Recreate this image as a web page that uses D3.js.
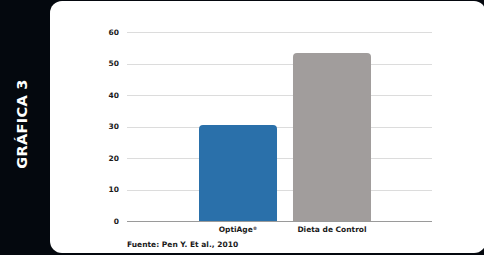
<!DOCTYPE html>
<html><head><meta charset="utf-8">
<script src="https://cdn.jsdelivr.net/npm/d3@7"></script>
<style>html,body{margin:0;padding:0;background:#04080e;}svg{display:block;}</style>
</head><body>
<script>
const categories = ["OptiAge", "Dieta de Control"];
const categorySup = ["®", ""];
const values = [30.5, 53.3];
const colors = ["#2a70aa", "#a19d9c"];
const yTicks = [0, 10, 20, 30, 40, 50, 60];
const title = "GRÁFICA 3";
const source = "Fuente: Pen Y. Et al., 2010";

const W = 484, H = 255;
const svg = d3.select("body").append("svg").attr("width", W).attr("height", H);
svg.append("rect").attr("width", W).attr("height", H).attr("fill", "#04080e");
svg.append("rect").attr("x", 50).attr("y", 1).attr("width", 436).attr("height", 252)
  .attr("rx", 12).attr("fill", "#ffffff");

svg.append("text").attr("transform", "translate(26.5,124) rotate(-90)")
  .attr("text-anchor", "middle").attr("fill", "#ffffff")
  .attr("font-family", "DejaVu Sans").attr("font-weight", "bold").attr("font-size", 14.5)
  .attr("letter-spacing", 0.3)
  .text(title);

const y = d3.scaleLinear().domain([0, 60]).range([221, 32]);
const x = d3.scaleBand().domain(categories).range([199, 371]).paddingInner(0.17).paddingOuter(0);
const gridX0 = 127, gridX1 = 432;

const g = svg.append("g");
g.selectAll("line.grid").data(yTicks.filter(d => d > 0)).join("line")
  .attr("x1", gridX0).attr("x2", gridX1)
  .attr("y1", d => Math.round(y(d)) + 0.5).attr("y2", d => Math.round(y(d)) + 0.5)
  .attr("stroke", "#dcdcdc").attr("stroke-width", 1);

g.selectAll("text.tick").data(yTicks).join("text")
  .attr("x", 119).attr("y", d => y(d)).attr("dy", "0.35em")
  .attr("text-anchor", "end").attr("fill", "#1a1a1a")
  .attr("font-family", "DejaVu Sans").attr("font-weight", "bold").attr("font-size", 7.5)
  .text(d => d);

const r = 4;
g.selectAll("path.bar").data(values).join("path")
  .attr("fill", (d, i) => colors[i])
  .attr("d", (d, i) => {
    const x0 = x(categories[i]), w = x.bandwidth(), y0 = y(0), y1 = y(d);
    return `M${x0},${y0}V${y1 + r}Q${x0},${y1} ${x0 + r},${y1}H${x0 + w - r}Q${x0 + w},${y1} ${x0 + w},${y1 + r}V${y0}Z`;
  });

g.append("line").attr("x1", gridX0).attr("x2", gridX1)
  .attr("y1", Math.round(y(0)) + 0.5).attr("y2", Math.round(y(0)) + 0.5)
  .attr("stroke", "#9a9a9a").attr("stroke-width", 1);

const cats = g.selectAll("text.cat").data(categories).join("text")
  .attr("x", d => x(d) + x.bandwidth() / 2).attr("y", 232)
  .attr("text-anchor", "middle").attr("fill", "#1a1a1a")
  .attr("font-family", "DejaVu Sans").attr("font-weight", "bold").attr("font-size", 7.5);
cats.append("tspan").text(d => d);
cats.append("tspan").attr("font-size", 4.5).attr("dy", -2.5).text((d, i) => categorySup[i]);

svg.append("text").attr("x", 127).attr("y", 247)
  .attr("fill", "#1a1a1a")
  .attr("font-family", "DejaVu Sans").attr("font-weight", "bold").attr("font-size", 7.5)
  .text(source);
</script>
</body></html>
